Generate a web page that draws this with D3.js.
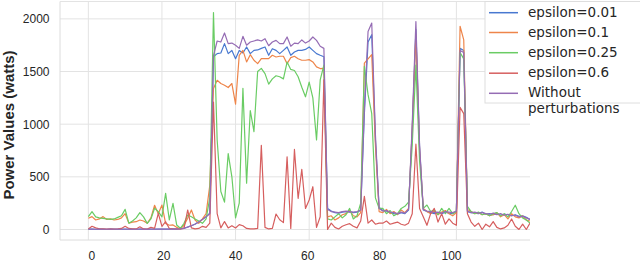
<!DOCTYPE html>
<html><head><meta charset="utf-8">
<script src="https://cdn.jsdelivr.net/npm/d3@7/dist/d3.min.js"></script>
<style>body{margin:0;background:#fff}svg{display:block}</style>
</head><body>
<svg id="c" width="640" height="262"></svg>
<script>
// ---- data (index = time step 0..120) ----
const eps001 = [
3,3,2,3,3,2,3,3,2,3,
3,2,3,2,3,3,2,3,3,3,
3,4,4,5,5,7,12,24,36,52,
72,97,122,155,1640,1670,1676,1765,1670,1700,
1622,1700,1676,1733,1670,1701,1705,1720,1733,1654,
1717,1701,1670,1701,1733,1654,1686,1701,1701,1710,
1733,1701,1670,1654,1640,200,175,160,155,165,
170,165,160,165,180,1100,1780,1850,850,210,
180,175,160,150,145,160,150,185,950,1900,
780,185,170,160,150,160,150,165,155,150,
170,1720,1700,170,160,155,150,165,145,150,
140,150,135,145,140,130,140,125,130,115,95];
const eps01 = [
106,122,90,100,122,95,100,90,95,110,
150,60,70,74,90,80,58,110,230,150,
232,58,40,43,20,5,40,106,185,90,
58,100,150,420,1338,1417,1386,1370,1348,1386,
1190,1654,1701,1591,1660,1607,1575,1622,1622,1622,
1654,1638,1645,1645,1575,1632,1645,1622,1607,1607,
1613,1591,1544,1528,1530,120,130,90,110,140,
150,180,130,120,160,1580,1620,1660,800,170,
160,190,150,170,140,185,160,200,950,1850,
750,200,170,150,175,140,165,180,150,130,
160,1930,1800,190,170,150,160,140,150,130,
140,160,120,140,100,150,120,110,130,90,80];
const eps025 = [
122,169,120,110,105,100,95,100,115,130,
191,60,80,110,160,120,58,100,201,169,
120,343,90,248,43,11,58,138,120,100,
80,58,100,300,2060,850,360,260,720,500,
110,250,1340,440,1130,930,1500,1530,1480,1380,
1430,1460,1450,1430,1590,1520,1510,1450,1350,1260,
1400,1250,850,1420,1560,100,90,120,150,110,
140,200,100,130,250,1550,1280,1100,300,200,
200,150,180,130,150,200,220,260,800,1560,
650,200,232,170,185,140,200,150,200,150,
170,1680,1620,220,170,150,165,140,150,130,
150,160,130,150,120,170,230,150,110,90,60];
const eps06 = [
5,30,15,5,5,3,5,3,5,10,
30,10,5,5,25,5,3,20,10,153,
30,74,10,5,3,5,10,185,15,5,
10,30,20,60,1210,150,15,75,15,36,
14,46,35,10,5,5,10,800,20,5,
10,147,92,65,690,10,760,296,570,200,
280,406,20,121,1420,0,60,20,5,30,
45,55,30,15,80,315,60,90,50,60,
60,80,50,60,70,50,40,60,150,810,
200,120,40,150,200,70,150,50,100,60,
40,1160,1100,150,70,30,60,0,50,25,
75,20,5,15,40,100,30,0,50,0,60];
const withoutPert = [
2,3,2,3,2,2,3,2,3,2,
2,3,2,2,3,2,3,2,2,3,
3,3,4,4,4,5,10,22,35,50,
70,95,120,150,1650,1790,1780,1866,1765,1770,
1750,1720,1834,1750,1780,1790,1800,1790,1812,1745,
1780,1796,1765,1765,1828,1740,1770,1765,1800,1770,
1790,1828,1796,1740,1720,190,170,165,160,170,
175,170,165,170,185,1150,1880,1960,900,200,
175,180,165,160,150,165,155,190,1000,1975,
800,190,175,170,160,165,155,170,165,160,
175,1700,1680,175,160,165,155,160,150,145,
155,140,150,135,145,130,135,120,125,110,95];

const seriesNames = ["epsilon=0.01","epsilon=0.1","epsilon=0.25","epsilon=0.6","Without perturbations"];
const seriesValues = [eps001, eps01, eps025, eps06, withoutPert];
const seriesColors = ["#4878d0","#ee854a","#6acc64","#d65f5f","#956cb4"];
const xTicks = [0,20,40,60,80,100];
const yTicks = [0,500,1000,1500,2000];
const yLabel = "Power Values (watts)";

// ---- layout ----
const svg = d3.select("#c");
const L = 60, R = 530, T = 1.5, B = 240;
const x = d3.scaleLinear().domain([-7.7, 120]).range([L, R]);
const y = d3.scaleLinear().domain([-100, 2165]).range([B, T]);
const labelX = d3.scaleLinear().domain([0, 100]).range([91.3, 451]);
const gridColor = "#e3e3e3";
const textColor = "#262626";

// grid
const g = svg.append("g");
g.selectAll("line.gy").data(yTicks).join("line")
  .attr("x1", L).attr("x2", R).attr("y1", d => y(d)).attr("y2", d => y(d))
  .attr("stroke", gridColor).attr("stroke-width", 1);
g.selectAll("line.gx").data(xTicks).join("line")
  .attr("y1", T).attr("y2", B).attr("x1", d => x(d)).attr("x2", d => x(d))
  .attr("stroke", gridColor).attr("stroke-width", 1);
// spines (left, bottom, top)
g.append("line").attr("x1", L).attr("x2", L).attr("y1", T).attr("y2", B).attr("stroke", "#dcdcdc");
g.append("line").attr("x1", L).attr("x2", R).attr("y1", B).attr("y2", B).attr("stroke", "#dcdcdc");
g.append("line").attr("x1", L).attr("x2", R).attr("y1", T).attr("y2", T).attr("stroke", "#e3e3e3");

// axes via d3 axis generators (ticks hidden, labels kept)
const yAxis = svg.append("g").attr("transform", `translate(${L},0)`)
  .call(d3.axisLeft(y).tickValues(yTicks).tickSize(0).tickPadding(10.5).tickFormat(d3.format("d")));
yAxis.select(".domain").remove();
yAxis.selectAll("text").attr("font-family", "Liberation Sans, Arial, sans-serif")
  .attr("font-size", 12).attr("fill", textColor);

const xAxis = svg.append("g").attr("transform", `translate(0,${B})`)
  .call(d3.axisBottom(x).tickValues(xTicks).tickSize(0).tickFormat(d3.format("d")));
xAxis.select(".domain").remove();
xAxis.selectAll("text").attr("font-family", "Liberation Sans, Arial, sans-serif")
  .attr("font-size", 12).attr("fill", textColor)
  .attr("y", 20.3).attr("dy", 0)
  .attr("x", d => labelX(d) - x(d));

svg.append("text")
  .attr("transform", `translate(14,125) rotate(-90)`)
  .attr("text-anchor", "middle")
  .attr("font-family", "Liberation Sans, Arial, sans-serif")
  .attr("font-weight", "bold").attr("font-size", 15).attr("fill", textColor)
  .text(yLabel);

// lines
svg.append("clipPath").attr("id", "clip").append("rect")
  .attr("x", L).attr("y", T).attr("width", R - L).attr("height", B - T);
const line = d3.line().x((d, i) => x(i)).y(d => y(d));
svg.append("g").attr("clip-path", "url(#clip)")
  .selectAll("path").data(seriesValues).join("path")
  .attr("d", d => line(d))
  .attr("fill", "none")
  .attr("stroke", (d, i) => seriesColors[i])
  .attr("stroke-width", 1.2)
  .attr("stroke-linejoin", "round");

// legend
const lg = svg.append("g");
lg.append("rect").attr("x", 485).attr("y", T).attr("width", 170).attr("height", 101.5)
  .attr("fill", "#fff").attr("stroke", "#dedede");
const rowY = [12.7, 32.5, 52.7, 73.2, 93.3];
const textY = [16.6, 36.6, 56.8, 77.2, 96.8];
seriesNames.forEach((name, i) => {
  lg.append("line").attr("x1", 489).attr("x2", 518).attr("y1", rowY[i]).attr("y2", rowY[i])
    .attr("stroke", seriesColors[i]).attr("stroke-width", 1.5);
  const t = lg.append("text").attr("x", 528).attr("y", textY[i])
    .attr("font-family", "DejaVu Sans, sans-serif").attr("font-size", 13.5)
    .attr("fill", textColor);
  const parts = name === "Without perturbations" ? ["Without", "perturbations"] : [name];
  parts.forEach((p, j) => {
    t.append("tspan").attr("x", 528).attr("dy", j === 0 ? 0 : 15.8).text(p);
  });
});
</script>
</body></html>
